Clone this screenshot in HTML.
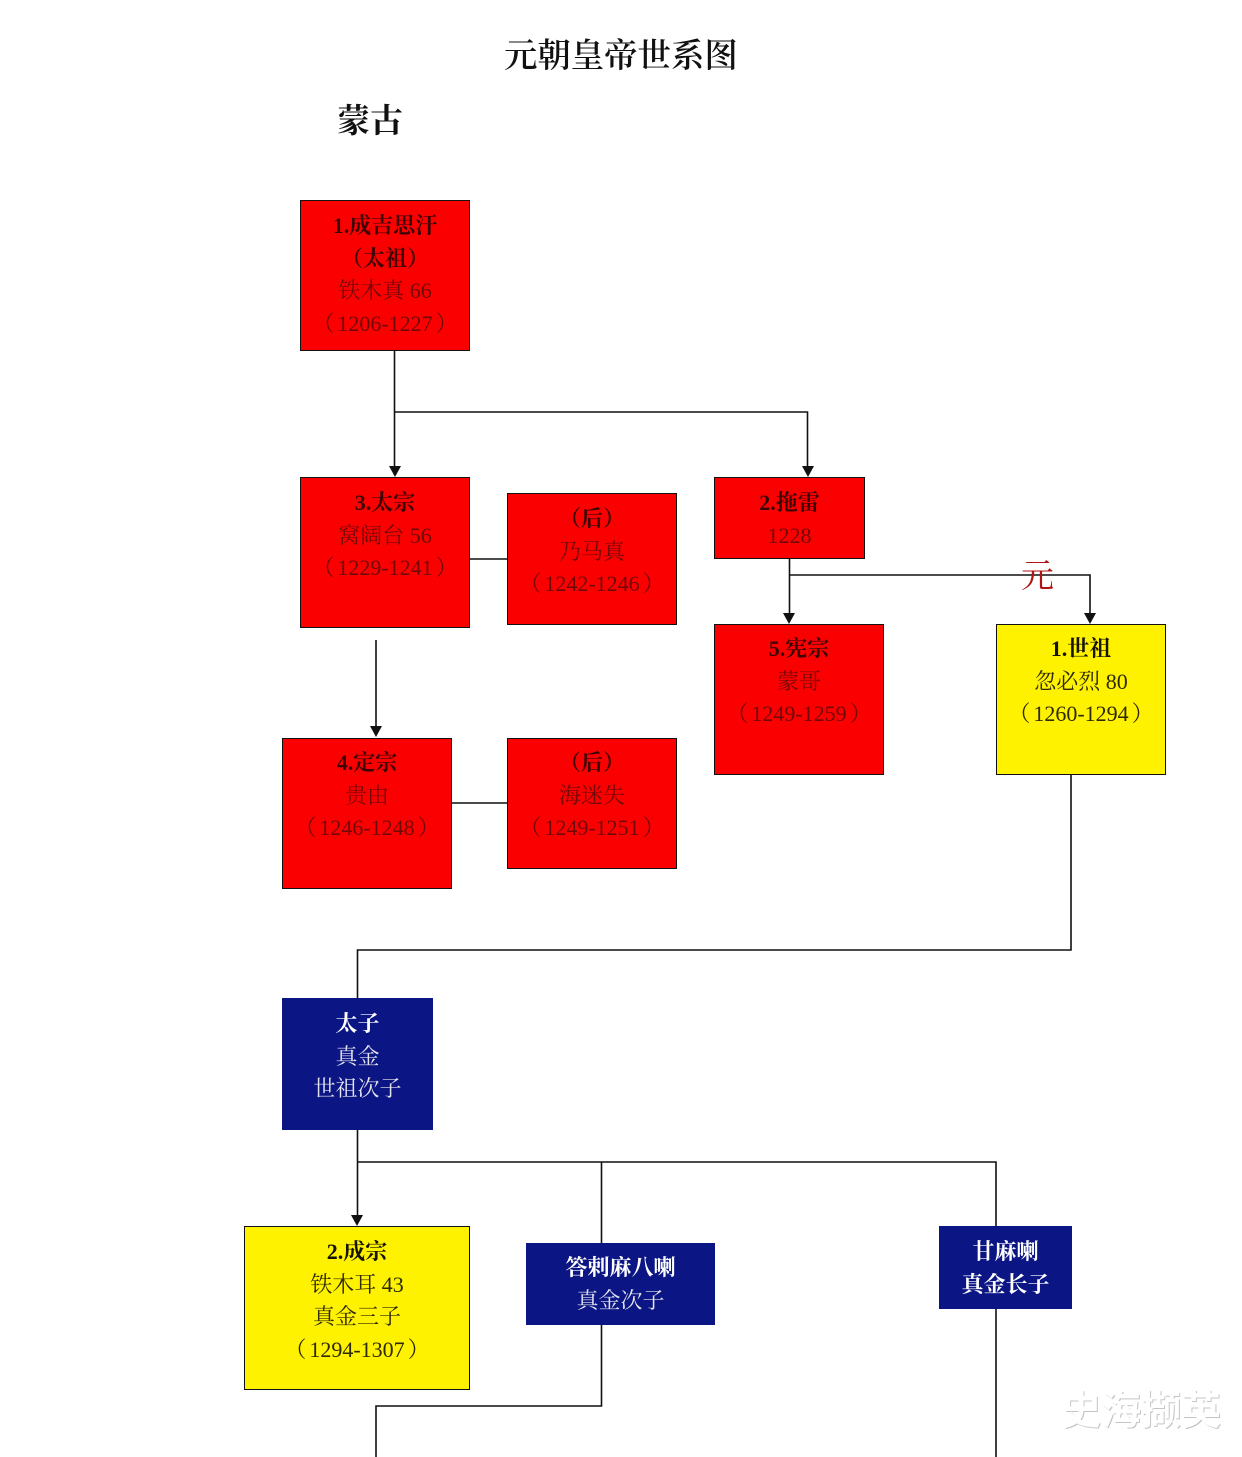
<!DOCTYPE html>
<html><head><meta charset="utf-8">
<style>
html,body{margin:0;padding:0;background:#fff;}
#c{position:relative;width:1242px;height:1457px;overflow:hidden;background:#fff;font-family:"Liberation Serif","Noto Serif CJK SC",serif;}
.b{position:absolute;box-sizing:border-box;border:1.5px solid #111;text-align:center;font-size:22px;color:#222;padding-top:9px;}
.b div{height:32.6px;line-height:32.6px;white-space:nowrap;}
.b .h{font-weight:700;}
.b span{letter-spacing:3px;}
.b em{font-style:normal;margin-left:3px;}
.r{background:#fb0000;color:#700808;}
.r .h{color:#3c0404;}
.y{background:#fff200;color:#2e2a00;}
.y .h{color:#141400;}
.n{background:#0b1583;color:#e4e4ee;border-color:#0b1583;}
.n .h{color:#fff;}
.t{position:absolute;white-space:nowrap;}
svg{position:absolute;left:0;top:0;}
</style></head><body><div id="c">
<div class="t" style="left:504px;top:35px;font-size:33.4px;line-height:44px;color:#111;font-weight:600;">元朝皇帝世系图</div>
<div class="t" style="left:337px;top:99px;font-size:33px;line-height:46px;color:#111;font-weight:700;">蒙古</div>

<svg width="1242" height="1457" fill="none" stroke="#111" stroke-width="1.6">
<path d="M394.500 350V468M395 412H807.500V468M470 559H507M376 640V728M451 803H507M789.500 558V615M790 575H1090V615M1071 772V950H357.500V998M357.500 1130V1217M358 1162H996V1226M601.500 1162V1243M601.500 1324V1406H376V1457M996 1308V1457"/>
<g fill="#111" stroke="none">
<path d="M389 466H401L395 477Z"/><path d="M802 466H814L808 477Z"/><path d="M370 726H382L376 737Z"/><path d="M783 613H795L789 624Z"/><path d="M1084 613H1096L1090 624Z"/><path d="M351 1215H363L357 1226Z"/>
</g>
</svg>

<div class="b r" style="left:300px;top:200px;width:170px;height:151px;"><div class="h">1.成吉思汗</div><div class="h">（太祖）</div><div>铁木真 66</div><div><span>（</span>1206-1227<em>）</em></div></div>
<div class="b r" style="left:300px;top:477px;width:170px;height:151px;"><div class="h">3.太宗</div><div>窝阔台 56</div><div><span>（</span>1229-1241<em>）</em></div></div>
<div class="b r" style="left:507px;top:493px;width:170px;height:132px;"><div class="h">（后）</div><div>乃马真</div><div><span>（</span>1242-1246<em>）</em></div></div>
<div class="b r" style="left:714px;top:477px;width:151px;height:82px;"><div class="h">2.拖雷</div><div>1228</div></div>
<div class="b r" style="left:714px;top:624px;width:170px;height:151px;padding-top:8px;"><div class="h">5.宪宗</div><div>蒙哥</div><div><span>（</span>1249-1259<em>）</em></div></div>
<div class="b y" style="left:996px;top:624px;width:170px;height:151px;padding-top:8px;"><div class="h">1.世祖</div><div>忽必烈 80</div><div><span>（</span>1260-1294<em>）</em></div></div>
<div class="b r" style="left:282px;top:738px;width:170px;height:151px;padding-top:8px;"><div class="h">4.定宗</div><div>贵由</div><div><span>（</span>1246-1248<em>）</em></div></div>
<div class="b r" style="left:507px;top:738px;width:170px;height:131px;padding-top:8px;"><div class="h">（后）</div><div>海迷失</div><div><span>（</span>1249-1251<em>）</em></div></div>
<div class="b n" style="left:282px;top:998px;width:151px;height:132px;"><div class="h">太子</div><div>真金</div><div>世祖次子</div></div>
<div class="b y" style="left:244px;top:1226px;width:226px;height:164px;"><div class="h">2.成宗</div><div>铁木耳 43</div><div>真金三子</div><div><span>（</span>1294-1307<em>）</em></div></div>
<div class="b n" style="left:526px;top:1243px;width:189px;height:82px;padding-top:8px;"><div class="h">答剌麻八喇</div><div>真金次子</div></div>
<div class="b n" style="left:939px;top:1226px;width:133px;height:83px;"><div class="h">甘麻喇</div><div class="h">真金长子</div></div>

<div class="t" style="left:1021px;top:556px;font-size:33px;line-height:42px;color:#b01515;">元</div>
<div class="t" style="left:1061px;top:1388px;font-size:40px;line-height:46px;color:#fff;font-weight:700;font-family:'Liberation Sans','Noto Sans CJK SC',sans-serif;text-shadow:1px 1px 0 #c4c4c4;">史海撷英</div>
</div></body></html>
